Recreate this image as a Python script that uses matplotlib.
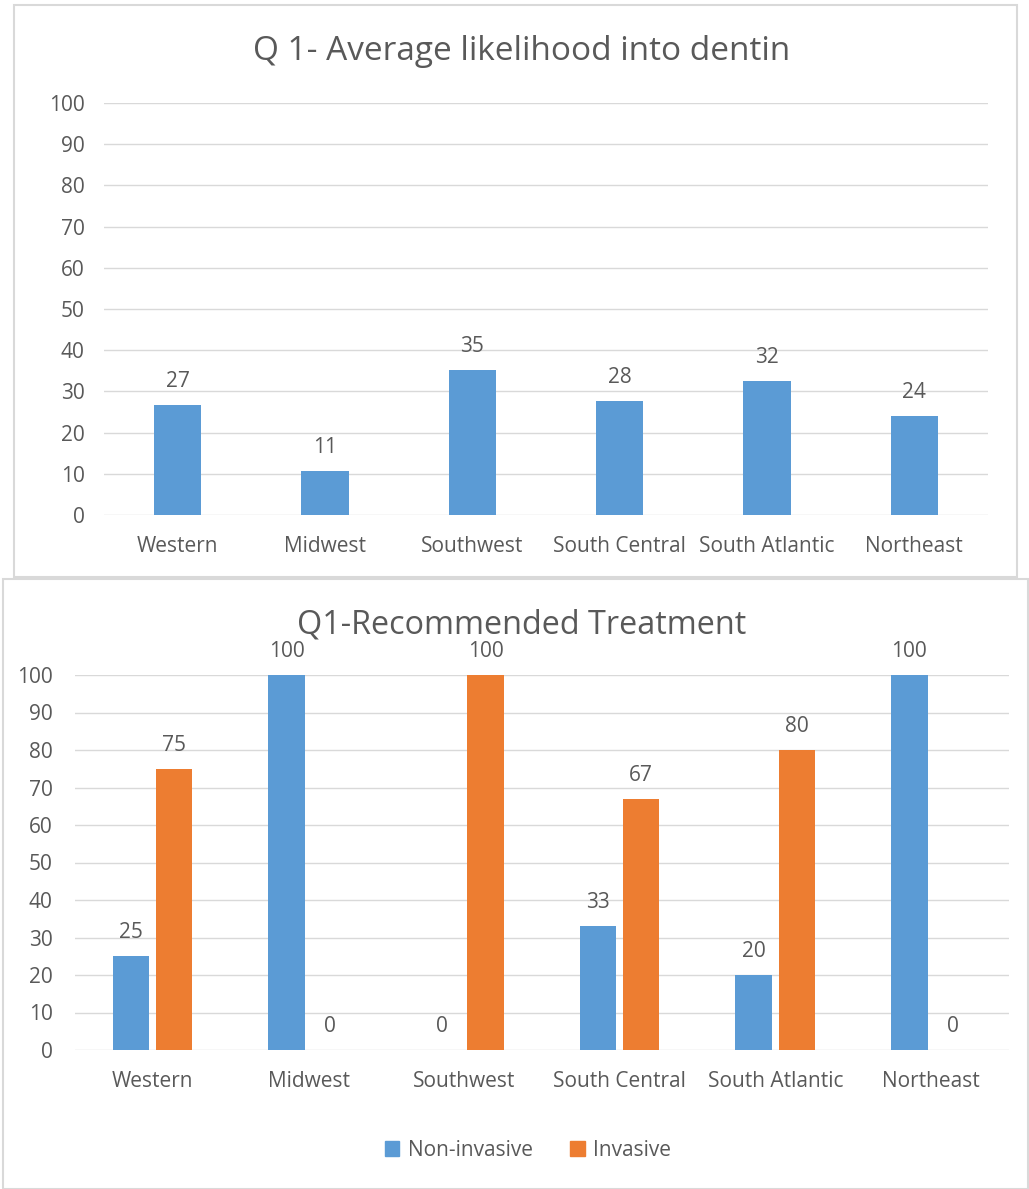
import matplotlib
matplotlib.use("Agg")
import matplotlib.pyplot as plt
import numpy as np
from matplotlib.patches import Rectangle, Patch

# Data
regions = ['Western', 'Midwest', 'Southwest', 'South Central',
           'South Atlantic', 'Northeast']
likelihood = [26.7, 10.7, 35.2, 27.7, 32.5, 24.0]
non_invasive = [25, 100, 0, 33, 20, 100]
invasive = [75, 0, 100, 67, 80, 0]

BLUE = '#5b9bd5'
ORANGE = '#ed7d31'
TEXT = '#595959'
GRID = '#d9d9d9'
FS = 15

plt.rcParams['font.family'] = ['Open Sans', 'DejaVu Sans']

W, H = 1029, 1189
fig = plt.figure(figsize=(W / 100, H / 100), dpi=100)


def px_axes(left, top, right, bottom):
    return fig.add_axes([left / W, (H - bottom) / H,
                         (right - left) / W, (bottom - top) / H])


def style_axes(ax, pad_x, pad_y):
    ax.set_xlim(-0.5, 5.5)
    ax.set_ylim(0, 100)
    ax.set_yticks(range(0, 101, 10))
    ax.set_xticks(range(len(regions)))
    ax.set_xticklabels(regions)
    for s in ax.spines.values():
        s.set_visible(False)
    ax.grid(axis='y', color=GRID, linewidth=1)
    ax.set_axisbelow(True)
    ax.tick_params(axis='both', length=0, colors=TEXT, labelsize=FS)
    ax.tick_params(axis='x', pad=pad_x)
    ax.tick_params(axis='y', pad=pad_y)


# Chart frames
fig.add_artist(Rectangle((14 / W, (H - 577) / H), (1017 - 14) / W, 572 / H,
                         transform=fig.transFigure, facecolor='white',
                         edgecolor=GRID, linewidth=1.5, zorder=0))
fig.add_artist(Rectangle((3 / W, 0.5 / H), (1028 - 3) / W, (H - 579) / H,
                         transform=fig.transFigure, facecolor='white',
                         edgecolor=GRID, linewidth=1.5, zorder=0))

# Top chart
ax1 = px_axes(104, 103, 988, 515)
x = np.arange(len(regions))
ax1.bar(x, likelihood, width=0.32, color=BLUE, zorder=2)
for xi, v in zip(x, likelihood):
    ax1.annotate(f'{v:.0f}', (xi, v), xytext=(0, 9.5),
                 textcoords='offset points', ha='center', va='bottom',
                 color=TEXT, fontsize=FS)
style_axes(ax1, 15, 14)
fig.text(522 / W, 1 - 51 / H, 'Q 1- Average likelihood into dentin',
         ha='center', va='center', color=TEXT, fontsize=24)

# Bottom chart
ax2 = px_axes(75, 675, 1009, 1050)
b1 = ax2.bar(x - 0.14, non_invasive, width=0.235, color=BLUE, zorder=2,
             label='Non-invasive')
b2 = ax2.bar(x + 0.137, invasive, width=0.235, color=ORANGE, zorder=2,
             label='Invasive')
for bars, vals in ((b1, non_invasive), (b2, invasive)):
    for r, v in zip(bars, vals):
        ax2.annotate(f'{v}', (r.get_x() + r.get_width() / 2, v),
                     xytext=(0, 9.5), textcoords='offset points',
                     ha='center', va='bottom', color=TEXT, fontsize=FS)
style_axes(ax2, 15, 16)
fig.text(522 / W, 1 - 625 / H, 'Q1-Recommended Treatment',
         ha='center', va='center', color=TEXT, fontsize=23.3)

handles = [Patch(color=BLUE, label='Non-invasive'),
           Patch(color=ORANGE, label='Invasive')]
fig.legend(handles=handles, loc='center', bbox_to_anchor=(528 / W, 1 - 1150 / H),
           ncol=2, frameon=False, fontsize=FS, labelcolor=TEXT,
           handlelength=0.7, handleheight=0.7, handletextpad=0.4,
           columnspacing=1.8)

fig.savefig('out.png', dpi=100)
